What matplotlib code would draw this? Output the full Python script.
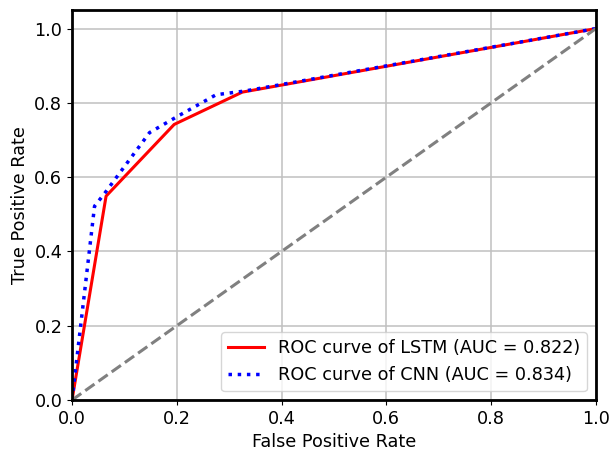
import matplotlib
matplotlib.use("Agg")
import matplotlib.pyplot as plt

# ROC points for the two models
fpr_lstm = [0.0, 0.065, 0.195, 0.325, 1.0]
tpr_lstm = [0.0, 0.549, 0.742, 0.829, 1.0]
auc_lstm = 0.822

fpr_cnn = [0.0, 0.043, 0.062, 0.148, 0.203, 0.275, 0.33, 1.0]
tpr_cnn = [0.0, 0.522, 0.556, 0.72, 0.765, 0.822, 0.832, 1.0]
auc_cnn = 0.834

plt.rcParams["font.size"] = 12.7

fig = plt.figure(figsize=(6.13, 4.57), dpi=100)
ax = fig.add_axes([0.1175, 0.1247, 0.8545, 0.8533])

ax.plot(fpr_lstm, tpr_lstm, color="red", lw=2.2,
        label="ROC curve of LSTM (AUC = %0.3f)" % auc_lstm)
ax.plot(fpr_cnn, tpr_cnn, color="blue", lw=2.5, linestyle=":",
        label="ROC curve of CNN (AUC = %0.3f)" % auc_cnn)
ax.plot([0, 1], [0, 1], color="gray", lw=2.2, linestyle="--")

ax.set_xlim(0.0, 1.0)
ax.set_ylim(0.0, 1.05)
ax.set_xlabel("False Positive Rate")
ax.set_ylabel("True Positive Rate")
ax.grid(True, color="#c0c0c0", lw=1.1)

for side in ax.spines.values():
    side.set_linewidth(2)

ax.legend(loc="lower right")

fig.savefig("out.png", dpi=100)
